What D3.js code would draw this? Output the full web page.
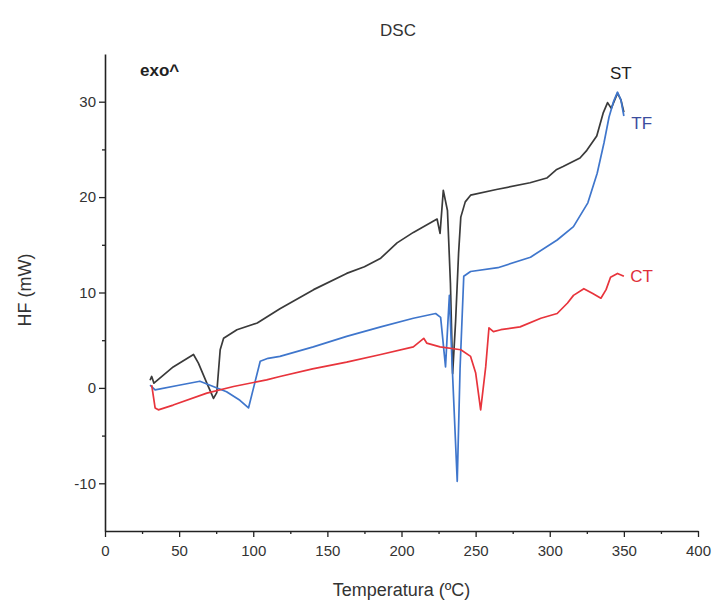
<!DOCTYPE html>
<meta charset="utf-8">

<!-- Load d3.js -->
<script src="https://d3js.org/d3.v7.min.js"></script>

<style>
body { margin: 0; background: #fff; }
text { font-family: "Liberation Sans", Arial, sans-serif; fill: #333; }
</style>

<div id="dsc_chart"></div>

<script>
// data: temperature (C) and heat flow (mW)
var stTemp = [30.4, 31.5, 33, 46, 59.7, 63, 68.7, 73.2, 75.4, 77.7, 80, 89, 102.7, 118, 140.7, 163, 175, 186, 197, 208, 224, 226, 228.2, 231, 233, 234.5, 236.5, 238.5, 240, 243, 246.6, 264, 286.7, 298, 304.7, 309, 320.4, 325, 331.7, 336, 339, 341.5, 345.7, 348, 350];
var stHF   = [0.8, 1.2, 0.5, 2.2, 3.5, 2.6, 0.5, -1.1, -0.5, 4.0, 5.2, 6.1, 6.8, 8.3, 10.3, 12.0, 12.7, 13.6, 15.2, 16.3, 17.7, 16.2, 20.7, 18.6, 11, 1.5, 7, 14.1, 17.9, 19.5, 20.2, 20.8, 21.5, 22.0, 22.9, 23.2, 24.1, 24.9, 26.4, 28.8, 29.9, 29.3, 30.9, 30.2, 28.9];

var tfTemp = [30.4, 33.8, 50.7, 64, 73, 82, 91, 96.8, 101, 104.7, 110, 118, 140.5, 163, 186, 208, 223, 226.4, 229.7, 231, 232.3, 234, 237.6, 239.5, 242, 246.6, 265, 287, 305, 316, 325.7, 332, 336.6, 340, 343, 345.7, 348, 350];
var tfHF   = [0.3, -0.2, 0.3, 0.7, 0.15, -0.4, -1.3, -2.1, 0.5, 2.8, 3.1, 3.3, 4.3, 5.4, 6.4, 7.3, 7.8, 7.4, 2.2, 6, 9.7, 3, -9.8, 2, 11.7, 12.2, 12.6, 13.7, 15.5, 16.9, 19.4, 22.5, 25.7, 28.4, 30.0, 31.0, 30.2, 28.5];

var ctTemp = [31.5, 33.8, 36, 46, 68.7, 86.7, 109, 118, 140, 163, 186, 208, 215, 217, 226, 240, 246.6, 250, 253.4, 256.8, 259, 262, 267, 280, 294, 305, 312, 316, 323, 329, 334.5, 338, 341, 345.7, 350];
var ctHF   = [0.3, -2.1, -2.3, -1.8, -0.55, 0.15, 0.84, 1.2, 2.0, 2.7, 3.5, 4.3, 5.2, 4.7, 4.3, 4.0, 3.3, 1.6, -2.3, 2.2, 6.3, 5.9, 6.1, 6.4, 7.3, 7.8, 8.9, 9.7, 10.4, 9.9, 9.4, 10.3, 11.6, 12.0, 11.7];

var xTicks = [0, 50, 100, 150, 200, 250, 300, 350, 400];
var yTicks = [-10, 0, 10, 20, 30];

// series: name, colour, label position in data units
var series = [
  {name: "ST", temp: stTemp, hf: stHF, color: "#3a3a3a", labelColor: "#222", lx: 348, ly: 32.8},
  {name: "TF", temp: tfTemp, hf: tfHF, color: "#3f76cc", labelColor: "#3c4d9e", lx: 362, ly: 27.6},
  {name: "CT", temp: ctTemp, hf: ctHF, color: "#e8343c", labelColor: "#e0303a", lx: 362, ly: 11.6}
];

// set the dimensions and margins of the graph
var margin = {top: 54, right: 19, bottom: 75, left: 105},
    width = 717 - margin.left - margin.right,
    height = 606 - margin.top - margin.bottom;

var svgRoot = d3.select("#dsc_chart")
  .append("svg")
    .attr("width", 717)
    .attr("height", 606);

var svg = svgRoot.append("g")
    .attr("transform", "translate(" + margin.left + "," + margin.top + ")");

var x = d3.scaleLinear().domain([0, 400]).range([0, width]);
var y = d3.scaleLinear().domain([-15, 35]).range([height, 0]);

// minor ticks first
svg.append("g")
  .attr("transform", "translate(0," + height + ")")
  .call(d3.axisBottom(x).tickValues(d3.range(25, 400, 50)).tickSize(3).tickFormat(""))
  .call(g => g.select(".domain").remove());
svg.append("g")
  .call(d3.axisLeft(y).tickValues([-5, 5, 15, 25]).tickSize(3).tickFormat(""))
  .call(g => g.select(".domain").remove());

// X axis
var xAxis = svg.append("g")
  .attr("transform", "translate(0," + height + ")")
  .call(d3.axisBottom(x).tickValues(xTicks).tickSize(6).tickSizeOuter(0));
xAxis.selectAll("text").attr("dy", "1.05em").style("font-size", "15px");

// Y axis (plain hyphen for negatives, as in the picture)
var yAxis = svg.append("g")
  .call(d3.axisLeft(y).tickValues(yTicks).tickSize(6).tickSizeOuter(0)
    .tickFormat(function(d) { return String(d); }));
yAxis.selectAll("text").style("font-size", "15px");

svg.selectAll(".domain").attr("stroke", "#222").attr("stroke-width", 1.6);
svg.selectAll(".tick line").attr("stroke", "#222").attr("stroke-width", 1.3);

// curves
var line = d3.line()
  .x(function(d) { return x(d[0]); })
  .y(function(d) { return y(d[1]); });

series.forEach(function(s) {
  var pts = s.temp.map(function(t, i) { return [t, s.hf[i]]; });
  svg.append("path")
    .datum(pts)
    .attr("fill", "none")
    .attr("stroke", s.color)
    .attr("stroke-width", 1.7)
    .attr("stroke-linejoin", "round")
    .attr("d", line);
  svg.append("text")
    .attr("x", x(s.lx))
    .attr("y", y(s.ly))
    .attr("text-anchor", "middle")
    .attr("dominant-baseline", "middle")
    .style("font-size", "17px")
    .style("fill", s.labelColor)
    .text(s.name);
});

// titles
svgRoot.append("text")
  .attr("x", 398).attr("y", 36)
  .attr("text-anchor", "middle")
  .style("font-size", "17px")
  .text("DSC");

svgRoot.append("text")
  .attr("x", 140).attr("y", 76)
  .style("font-size", "17px")
  .style("font-weight", "bold")
  .style("fill", "#222")
  .text("exo^");

svgRoot.append("text")
  .attr("x", margin.left + width / 2).attr("y", 596)
  .attr("text-anchor", "middle")
  .style("font-size", "18px")
  .text("Temperatura (ºC)");

svgRoot.append("text")
  .attr("transform", "translate(31,290) rotate(-90)")
  .attr("text-anchor", "middle")
  .style("font-size", "18px")
  .text("HF (mW)");
</script>
